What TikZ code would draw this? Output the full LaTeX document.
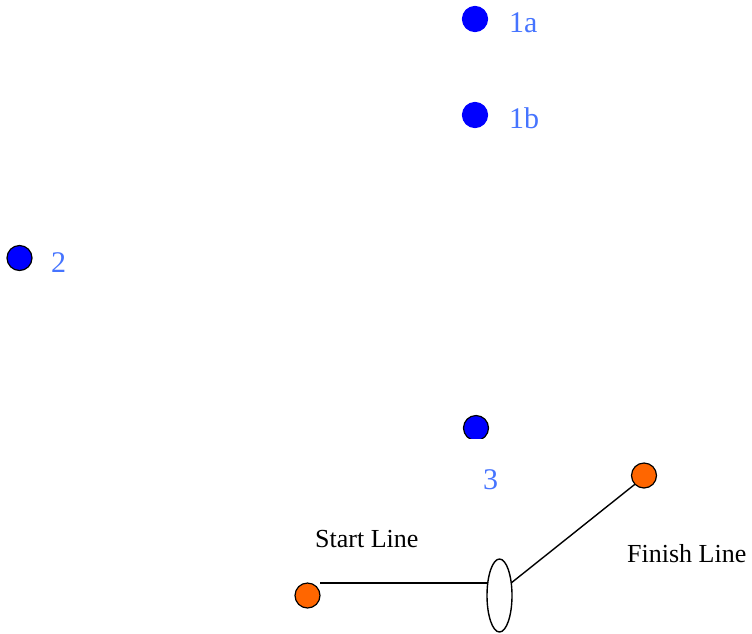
\documentclass[tikz,border=0pt]{standalone}
\usepackage{fontspec}
\setmainfont{Liberation Serif}
\usetikzlibrary{shapes.geometric}
\definecolor{dotblue}{RGB}{0,0,255}
\definecolor{labelblue}{RGB}{70,116,255}
\definecolor{dotorange}{RGB}{255,102,0}
\begin{document}
\begin{tikzpicture}[x=1pt,y=-1pt,
  dotbase/.style={circle,minimum size=25pt,inner sep=0pt,outer sep=0pt,line width=1.2pt},
  bluedot/.style={dotbase,fill=dotblue,draw=dotblue},
  bluedotb/.style={dotbase,fill=dotblue,draw=black},
  orangedot/.style={dotbase,fill=dotorange,draw=black},
  numlabel/.style={anchor=base west,inner sep=0pt,text=labelblue,font=\fontsize{30}{36}\selectfont},
  linelabel/.style={anchor=base west,inner sep=0pt,text=black,font=\fontsize{26}{31}\selectfont},
  conn/.style={draw=black,line width=1.4pt}]
\useasboundingbox (0,0) rectangle (752,633);
\node[bluedot] (d1a) at (475,19) {};
\node[numlabel] (l1a) at (509,32) {1a};
\node[bluedot] (d1b) at (475,115) {};
\node[numlabel] (l1b) at (509,128) {1b};
\node[bluedotb] (d2) at (19.5,258) {};
\node[numlabel] (l2) at (51,272) {2};
\begin{scope}
  \clip (440,400) rectangle (520,438);
  \node[bluedotb] (d3) at (476,428) {};
\end{scope}
\node[numlabel] (l3) at (483,489) {3};
\node[linelabel] (lstart) at (315,547) {Start Line};
\node[linelabel] (lfinish) at (627,562) {Finish Line};
\node[orangedot] (start) at (307.5,595.5) {};
\node[orangedot] (finish) at (644,475.5) {};
\node[ellipse,draw=black,fill=white,line width=1.4pt,minimum width=25pt,minimum height=73pt,inner sep=0pt,outer sep=0pt] (ell) at (499.5,595.5) {};
\draw[conn] (ell.133) -- (ell.133 -| start.east);
\draw[conn] (ell.47) -- (finish.224);
\end{tikzpicture}
\end{document}
